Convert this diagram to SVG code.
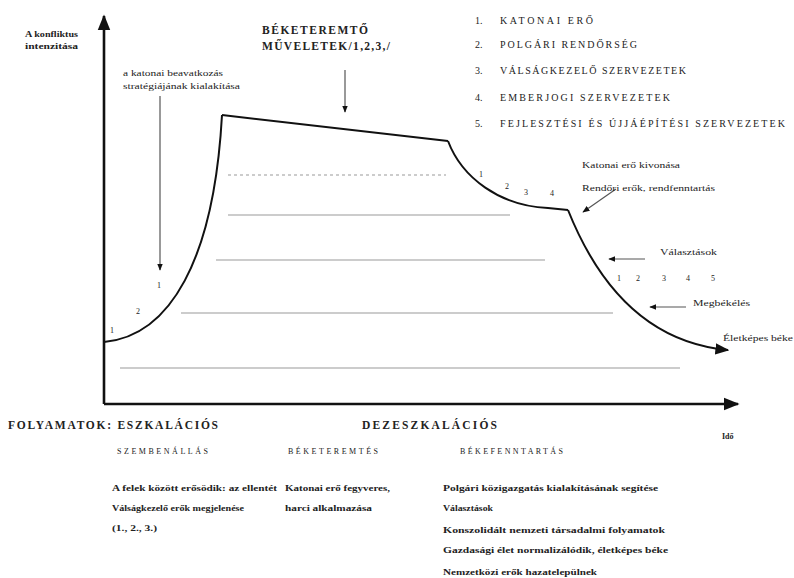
<svg xmlns="http://www.w3.org/2000/svg" width="794" height="578" viewBox="0 0 794 578">
<style>
text{font-family:"Liberation Serif","Times New Roman",serif;fill:#222}
.cap{font-size:10px}
.big{font-size:11.5px}
.sm{font-size:8px}
.b{font-weight:bold}
.gl{stroke:#999;stroke-width:1.2;fill:none}
.ax{stroke:#111;stroke-width:2.6;fill:none}
.cv{stroke:#111;stroke-width:2;fill:none}
.ar{stroke:#555;stroke-width:1.2;fill:none}
</style>
<defs>
<marker id="ah" viewBox="0 0 10 10" refX="9" refY="5" markerWidth="6" markerHeight="6" orient="auto"><path d="M0,1 L10,5 L0,9 z" fill="#111"/></marker>
<marker id="ahs" viewBox="0 0 10 10" refX="9" refY="5" markerWidth="7" markerHeight="7" orient="auto"><path d="M0,1 L10,5 L0,9 z" fill="#111"/></marker>
</defs>
<g id="axes">
<line class="ax" x1="104" y1="404" x2="104" y2="16" marker-end="url(#ah)"/>
<line class="ax" x1="104" y1="404" x2="738" y2="404" marker-end="url(#ah)"/>
</g>
<g id="levels">
<line class="gl" x1="228" y1="175" x2="446" y2="175" stroke-dasharray="3,3"/>
<line class="gl" x1="228" y1="215" x2="510" y2="215"/>
<line class="gl" x1="216" y1="260" x2="545" y2="260"/>
<line class="gl" x1="181" y1="313" x2="613" y2="313"/>
<line class="gl" x1="120" y1="368" x2="680" y2="368"/>
</g>
<g id="curve">
<path class="cv" d="M104,342 C170,336 214,260 222,115"/>
<path class="cv" d="M222,115 L448,141"/>
<path class="cv" d="M448,141 C462,178 500,206 548,208 L568,210"/>
<path class="cv" d="M568,210 C594,275 640,342 728,350" marker-end="url(#ahs)"/>
</g>
<g id="connectors">
<line class="ar" x1="160" y1="96" x2="160" y2="270" marker-end="url(#ah)"/>
<line class="ar" x1="345" y1="70" x2="345" y2="112" marker-end="url(#ah)"/>
<line class="ar" x1="616" y1="189" x2="583" y2="212" marker-end="url(#ah)"/>
<line class="ar" x1="645" y1="259" x2="609" y2="259" marker-end="url(#ah)"/>
<line class="ar" x1="686" y1="307" x2="650" y2="307" marker-end="url(#ah)"/>
</g>
<g id="axis-label">
<text class="sm b" x="25" y="37" textLength="53" lengthAdjust="spacingAndGlyphs">A konfliktus</text>
<text class="sm b" x="25" y="49" textLength="53" lengthAdjust="spacingAndGlyphs">intenzitása</text>
</g>
<g id="strategy">
<text class="sm" x="123" y="76" textLength="100" lengthAdjust="spacingAndGlyphs">a katonai beavatkozás</text>
<text class="sm" x="123" y="89" textLength="117" lengthAdjust="spacingAndGlyphs">stratégiájának kialakítása</text>
</g>
<g id="peacemaking-ops">
<text class="big b" x="262" y="34" textLength="106" lengthAdjust="spacing">BÉKETEREMTŐ</text>
<text class="big b" x="262" y="50" textLength="128" lengthAdjust="spacing">MŰVELETEK/1,2,3,/</text>
</g>
<g id="legend">
<text class="cap" x="475" y="24">1.</text><text class="cap" x="500" y="24" textLength="93" lengthAdjust="spacing">KATONAI ERŐ</text>
<text class="cap" x="475" y="48">2.</text><text class="cap" x="500" y="48" textLength="137" lengthAdjust="spacing">POLGÁRI RENDŐRSÉG</text>
<text class="cap" x="475" y="74">3.</text><text class="cap" x="500" y="74" textLength="186" lengthAdjust="spacing">VÁLSÁGKEZELŐ SZERVEZETEK</text>
<text class="cap" x="475" y="101">4.</text><text class="cap" x="500" y="101" textLength="170" lengthAdjust="spacing">EMBERJOGI SZERVEZETEK</text>
<text class="cap" x="475" y="127">5.</text><text class="cap" x="500" y="127" textLength="285" lengthAdjust="spacing">FEJLESZTÉSI ÉS ÚJJÁÉPÍTÉSI SZERVEZETEK</text>
</g>
<g id="numbers">
<text class="sm" x="110" y="333">1</text>
<text class="sm" x="136" y="314">2</text>
<text class="sm" x="157" y="288">1</text>
<text class="sm" x="479" y="177">1</text>
<text class="sm" x="505" y="189">2</text>
<text class="sm" x="524" y="195">3</text>
<text class="sm" x="550" y="196">4</text>
<text class="sm" x="617" y="281">1</text>
<text class="sm" x="636" y="281">2</text>
<text class="sm" x="662" y="281">3</text>
<text class="sm" x="686" y="281">4</text>
<text class="sm" x="711" y="281">5</text>
</g>
<g id="right-labels">
<text class="sm" x="582" y="168" textLength="98" lengthAdjust="spacingAndGlyphs">Katonai erő kivonása</text>
<text class="sm" x="582" y="191" textLength="133" lengthAdjust="spacingAndGlyphs">Rendőri erők, rendfenntartás</text>
<text class="sm" x="660" y="255" textLength="57" lengthAdjust="spacingAndGlyphs">Választások</text>
<text class="sm" x="693" y="306" textLength="57" lengthAdjust="spacingAndGlyphs">Megbékélés</text>
<text class="sm" x="723" y="341" textLength="70" lengthAdjust="spacingAndGlyphs">Életképes béke</text>
</g>
<g id="phases">
<text class="big b" x="8" y="429" textLength="210" lengthAdjust="spacing">FOLYAMATOK: ESZKALÁCIÓS</text>
<text class="big b" x="362" y="429" textLength="135" lengthAdjust="spacing">DEZESZKALÁCIÓS</text>
<text class="sm b" x="722" y="439">Idő</text>
<text class="sm" x="117" y="454" textLength="91" lengthAdjust="spacing">SZEMBENÁLLÁS</text>
<text class="sm" x="288" y="454" textLength="90" lengthAdjust="spacing">BÉKETEREMTÉS</text>
<text class="sm" x="460" y="454" textLength="103" lengthAdjust="spacing">BÉKEFENNTARTÁS</text>
</g>
<g id="descriptions">
<text class="sm b" x="112" y="491" textLength="165" lengthAdjust="spacingAndGlyphs">A felek között erősödik: az ellentét</text>
<text class="sm b" x="112" y="511" textLength="132" lengthAdjust="spacingAndGlyphs">Válságkezelő erők megjelenése</text>
<text class="sm b" x="112" y="531" textLength="45" lengthAdjust="spacingAndGlyphs">(1., 2., 3.)</text>
<text class="sm b" x="285" y="491" textLength="105" lengthAdjust="spacingAndGlyphs">Katonai erő fegyveres,</text>
<text class="sm b" x="285" y="511" textLength="87" lengthAdjust="spacingAndGlyphs">harci alkalmazása</text>
<text class="sm b" x="443" y="491" textLength="215" lengthAdjust="spacingAndGlyphs">Polgári közigazgatás kialakításának segítése</text>
<text class="sm b" x="443" y="511" textLength="50" lengthAdjust="spacingAndGlyphs">Választások</text>
<text class="sm b" x="443" y="533" textLength="222" lengthAdjust="spacingAndGlyphs">Konszolidált nemzeti társadalmi folyamatok</text>
<text class="sm b" x="443" y="553" textLength="225" lengthAdjust="spacingAndGlyphs">Gazdasági élet normalizálódik, életképes béke</text>
<text class="sm b" x="443" y="575" textLength="154" lengthAdjust="spacingAndGlyphs">Nemzetközi erők hazatelepülnek</text>
</g>
</svg>
